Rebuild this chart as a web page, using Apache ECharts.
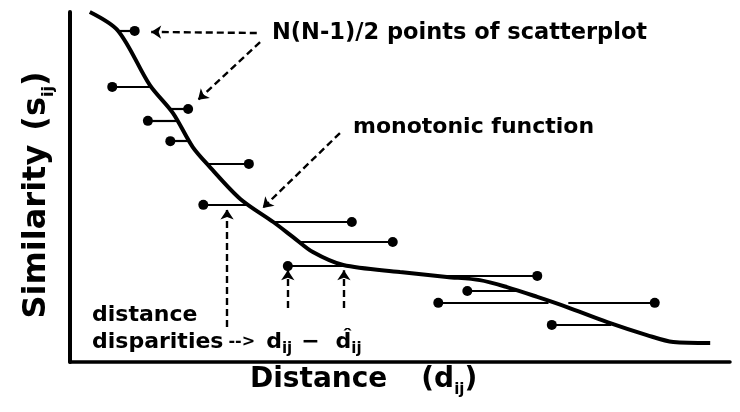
<!DOCTYPE html>
<html>
<head>
<meta charset="utf-8">
<style>
  html, body { margin: 0; padding: 0; background: #fff; }
  #chart { width: 740px; height: 412px; }
</style>
<script src="https://cdn.jsdelivr.net/npm/echarts@6/dist/echarts.min.js"></script>
</head>
<body>
<div id="chart"></div>
<script>
// Shepard diagram: observed distances d_ij plotted against similarities s_ij,
// with the fitted monotonic function that yields the disparities d̂_ij.

// Observed pairs, one per point pair (i, j)
const dij  = [9.8, 6.4, 17.9, 11.8, 15.2, 27.1, 20.2, 42.7, 48.9, 33.0, 70.8, 60.2, 55.8, 88.6, 73.0];
const sij  = [94.6, 78.6, 72.3, 68.9, 63.1, 56.6, 44.9, 40.0, 34.3, 27.4, 24.6, 20.3, 16.9, 16.9, 10.6];
// Disparities: distance given by the monotonic function at each s_ij
const dhat = [7.3, 12.2, 15.2, 16.3, 17.9, 21.0, 26.8, 30.8, 34.8, 41.5, 57.0, 68.0, 72.5, 75.5, 82.0];

// Monotonic function (distance, similarity)
const fnD = [3.0, 7.3, 12.1, 15.6, 18.6, 21.2, 25.8, 30.8, 33.8, 36.8, 41.4, 50.0, 57.1, 62.1, 66.2, 70.8, 75.3, 81.4, 87.4, 91.4, 97.0];
const fnS = [100.0, 94.6, 79.1, 71.1, 61.4, 55.7, 46.6, 40.0, 35.7, 31.4, 27.7, 25.7, 24.3, 23.4, 21.4, 18.6, 15.7, 11.4, 7.7, 5.7, 5.4];

const FONT = 'DejaVu Sans';
const INK = '#000';

const chart = echarts.init(document.getElementById('chart'), null, { renderer: 'canvas' });

const curve = fnD.map((d, i) => [d, fnS[i]]);
const points = dij.map((d, i) => [d, sij[i]]);
const residuals = dij.map((d, i) => ({ coords: [[d, sij[i]], [dhat[i], sij[i]]] }));

// Dashed pointer arrows (in data units)
const pointers = [
  { coords: [[28.3, 94.0], [12.3, 94.3]] },
  { coords: [[28.8, 91.4], [19.4, 74.9]] },
  { coords: [[40.9, 65.4], [29.2, 44.0]] },
  { coords: [[23.8, 10.0], [23.8, 43.6]] },
  { coords: [[dij[9], 15.4], [dij[9], sij[9] - 1.2]] },
  { coords: [[dhat[9], 15.4], [dhat[9], sij[9] - 1.2]] }
];

const axisCommon = {
  type: 'value',
  min: 0,
  max: 100,
  axisTick: { show: false },
  axisLabel: { show: false },
  splitLine: { show: false }
};

const bold = (size, extra) => Object.assign({
  fontFamily: FONT, fontWeight: 'bold', fontSize: size, fill: INK
}, extra || {});
const sub = bold(15, { lineHeight: 10, verticalAlign: 'bottom' });

chart.setOption({
  animation: false,
  backgroundColor: '#fff',
  grid: { left: 70, right: 10, top: 12, bottom: 50 },
  xAxis: Object.assign({}, axisCommon, {
    axisLine: { show: true, lineStyle: { color: INK, width: 3.5 } }
  }),
  yAxis: Object.assign({}, axisCommon, {
    axisLine: { show: true, lineStyle: { color: INK, width: 4 } }
  }),
  series: [
    {
      type: 'line',
      data: curve,
      smooth: 0.3,
      symbol: 'none',
      lineStyle: { color: INK, width: 4 },
      z: 3
    },
    {
      type: 'lines',
      coordinateSystem: 'cartesian2d',
      data: residuals,
      symbol: 'none',
      lineStyle: { color: INK, width: 2.2, opacity: 1 },
      z: 2
    },
    {
      type: 'scatter',
      data: points,
      symbol: 'circle',
      symbolSize: 10,
      itemStyle: { color: INK, opacity: 1 },
      z: 4
    },
    {
      type: 'lines',
      coordinateSystem: 'cartesian2d',
      data: pointers,
      symbol: ['none', 'arrow'],
      symbolSize: [9, 10],
      lineStyle: { color: INK, width: 2.4, type: [7, 4], opacity: 1 },
      z: 2
    }
  ],
  graphic: [
    {
      type: 'text', x: 272, y: 33,
      style: { text: 'N(N-1)/2 points of scatterplot', font: 'bold 22.5px ' + FONT, fill: INK, verticalAlign: 'middle' }
    },
    {
      type: 'text', x: 353, y: 127,
      style: { text: 'monotonic function', font: 'bold 22px ' + FONT, fill: INK, verticalAlign: 'middle' }
    },
    {
      type: 'text', x: 92, y: 315,
      style: { text: 'distance', font: 'bold 22px ' + FONT, fill: INK, verticalAlign: 'middle' }
    },
    {
      type: 'text', x: 92, y: 342,
      style: {
        text: '{t|disparities}{g1|}{a|-->}{g2|}{t|d}{s|ij}{g3|}{t|\u2212}{g4|}{t|d\u0302}{s|ij}',
        verticalAlign: 'middle',
        rich: {
          t: bold(22, { lineHeight: 30 }),
          a: bold(16, { lineHeight: 30 }),
          s: sub,
          g1: { width: 5 },
          g2: { width: 11 },
          g3: { width: 9 },
          g4: { width: 16 }
        }
      }
    },
    {
      type: 'text', x: 250, y: 380,
      style: {
        text: '{t|Distance}{g|}{t|(d}{s|ij}{t|)}',
        verticalAlign: 'middle',
        rich: {
          t: bold(28, { lineHeight: 36 }),
          g: { width: 34 },
          s: sub
        }
      }
    },
    {
      type: 'text', x: 37, y: 195, rotation: Math.PI / 2,
      style: {
        text: '{t|Similarity}{g|}{t|(s}{s|ij}{t|)}',
        align: 'center',
        verticalAlign: 'middle',
        rich: {
          t: bold(32, { lineHeight: 40 }),
          g: { width: 14 },
          s: bold(16, { lineHeight: 10, verticalAlign: 'bottom' })
        }
      }
    }
  ]
});
</script>
</body>
</html>
